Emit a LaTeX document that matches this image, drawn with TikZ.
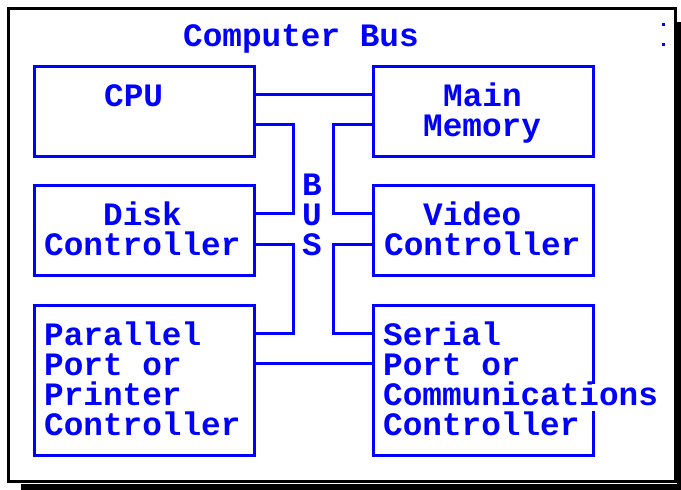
\documentclass[tikz,border=0pt]{standalone}
\usepackage{fontspec}
\newfontfamily\termfont{Liberation Mono}
\definecolor{busblue}{RGB}{0,0,255}
\tikzset{
  txt/.style={anchor=base west, inner sep=0pt, text=busblue,
    font=\termfont\bfseries\fontsize{32.7pt}{30pt}\selectfont},
  ctxt/.style={txt, anchor=base},
  unitbox/.style={draw=busblue, line width=3pt, anchor=north west, inner sep=0pt,
    minimum width=220pt},
  wire/.style={draw=busblue, line width=3pt},
}
\begin{document}
\begin{tikzpicture}[x=1pt, y=-1pt]
\useasboundingbox (0,0) rectangle (681,490);
% shadow and frame
\fill[black] (21,484) rectangle (681,490);
\fill[black] (677,22) rectangle (681,490);
\node[draw=black, line width=3pt, fill=white, anchor=north west, inner sep=0pt,
  minimum width=667pt, minimum height=473pt] (frame) at (7,7) {};
% colon marks
\fill[busblue] (661.5,22.5) rectangle (664.5,25.5);
\fill[busblue] (661.5,42.5) rectangle (664.5,45.5);
% title
\node[txt] (title) at (183,46) {Computer Bus};
% boxes
\node[unitbox, minimum height=90pt] (cpu) at (33,65) {};
\node[unitbox, minimum height=90pt] (mem) at (372,65) {};
\node[unitbox, minimum height=90pt] (disk) at (33,184) {};
\node[unitbox, minimum height=90pt] (video) at (372,184) {};
\node[unitbox, minimum height=150pt] (par) at (33,304) {};
\node[unitbox, minimum height=150pt] (ser) at (372,304) {};
% box texts
\node[txt] (tcpu) at (104,106) {CPU};
\node[txt] (tmain) at (443,106) {Main};
\node[txt] (tmem) at (423,136) {Memory};
\node[txt] (tdisk) at (103,225) {Disk};
\node[txt] (tdc) at (44,255) {Controller};
\node[txt] (tvideo) at (423,225) {Video};
\node[txt] (tvc) at (384,255) {Controller};
\node[txt] (tp1) at (44,345) {Parallel};
\node[txt] (tp2) at (44,375) {Port or};
\node[txt] (tp3) at (44,405) {Printer};
\node[txt] (tp4) at (44,435) {Controller};
\node[txt] (ts1) at (383,345) {Serial};
\node[txt] (ts2) at (383,375) {Port or};
\node[txt, fill=white, text depth=6pt, text height=21pt] (ts3) at (383,405) {Communications};
\node[txt] (ts4) at (383,435) {Controller};
% BUS label
\node[ctxt] (b1) at (312,195) {B};
\node[ctxt] (b2) at (312,225) {U};
\node[ctxt] (b3) at (312,255) {S};
% wires
\draw[wire] (cpu.east |- 0,94) -- (mem.west |- 0,94);
\draw[wire] (cpu.east |- 0,124) -| (293,213) -- (disk.east |- 0,213);
\draw[wire] (mem.west |- 0,124) -| (333,213) -- (video.west |- 0,213);
\draw[wire] (disk.east |- 0,244) -| (293,333) -- (par.east |- 0,333);
\draw[wire] (video.west |- 0,244) -| (333,333) -- (ser.west |- 0,333);
\draw[wire] (par.east |- 0,363) -- (ser.west |- 0,363);
\end{tikzpicture}
\end{document}
